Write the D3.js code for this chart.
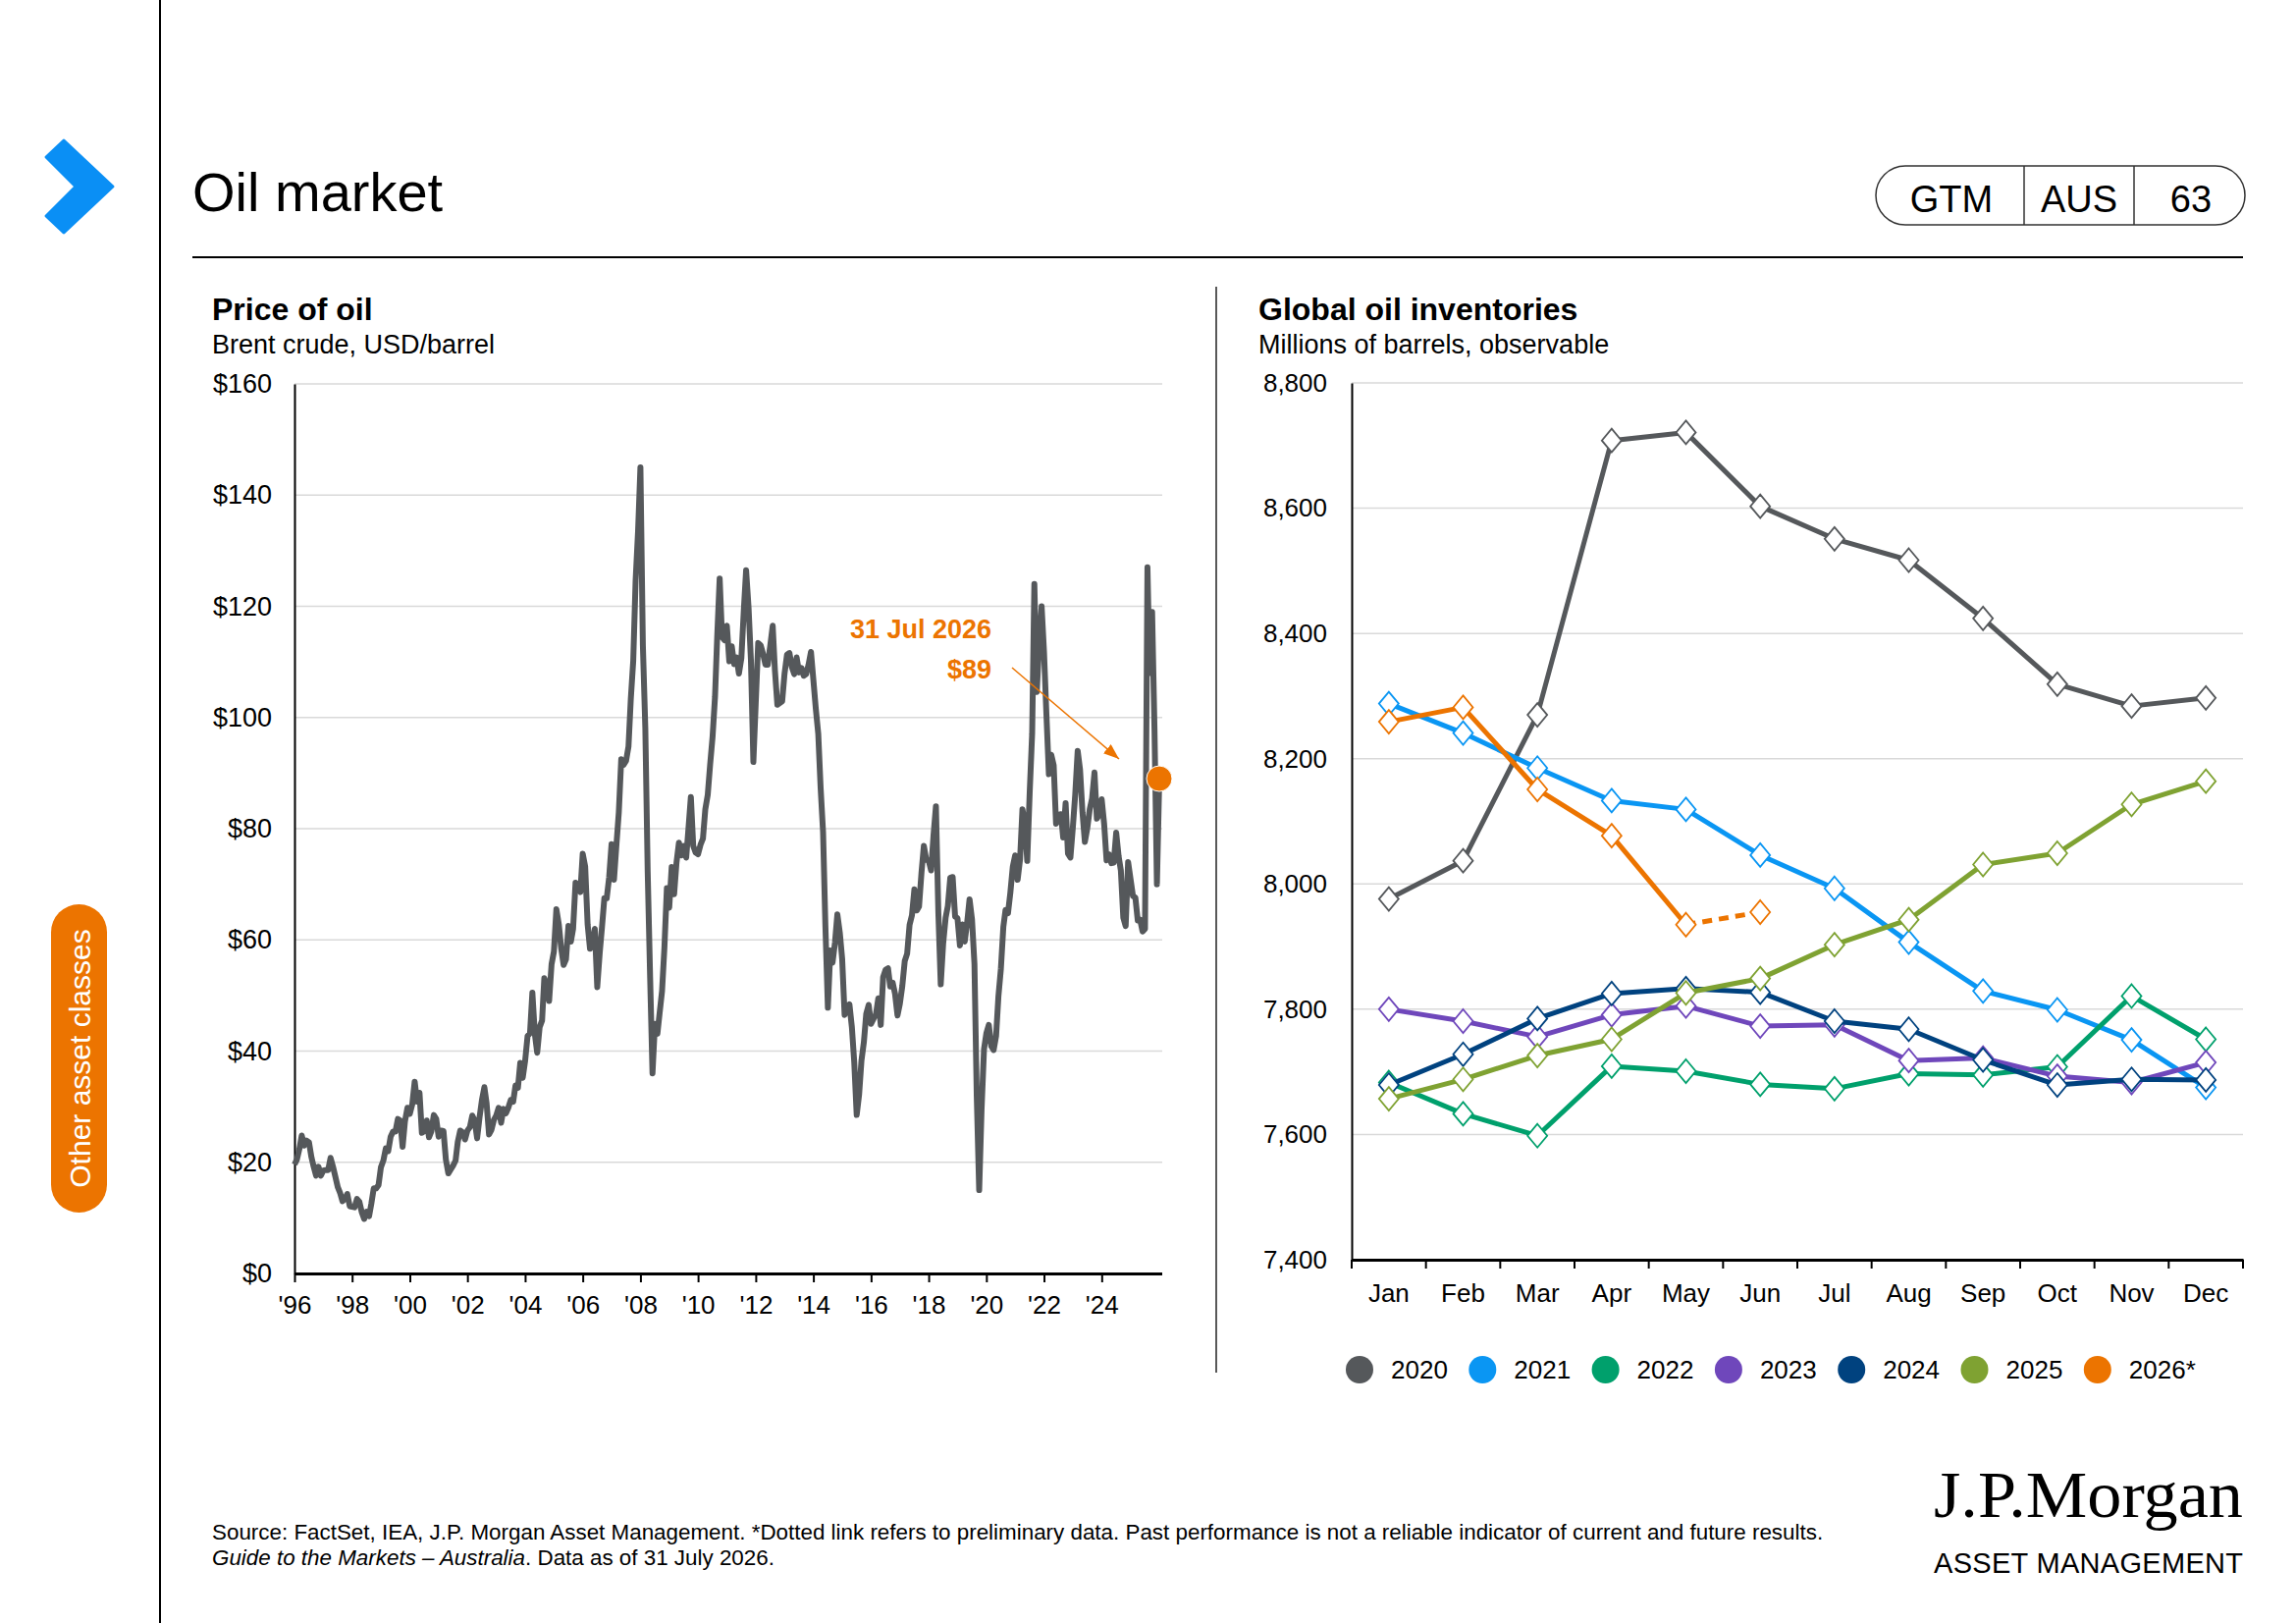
<!DOCTYPE html>
<html>
<head>
<meta charset="utf-8">
<script src="https://cdn.jsdelivr.net/npm/d3@7"></script>
<style>
body{margin:0;background:#fff;}
svg{display:block;font-family:"Liberation Sans",Arial,Helvetica,sans-serif;}
</style>
</head>
<body>
<script>
// ---- Brent crude, monthly, USD/barrel (Jul 1996 - Jul 2026) ----
var brentStart = new Date(1996, 6, 1);
var brent1990s = [
	19.6, 20.5, 22.4, 24.8, 23.0, 23.9,
	23.6, 20.9, 19.2, 17.6, 19.2, 17.6, 18.5, 18.6, 18.6, 20.8, 19.2, 17.4,
	15.5, 14.4, 13.0, 13.4, 14.3, 12.1, 12.0, 11.9, 13.4, 12.9, 11.0, 9.8,
	11.1, 10.3, 12.5, 15.3, 15.3, 15.9, 19.1, 20.3, 22.5, 22.0, 24.6, 25.5
];
var brent2000s = [
	25.5, 27.8, 27.5, 22.8, 27.4, 29.8, 28.7, 30.4, 34.5, 30.9, 32.5, 25.3,
	25.6, 27.5, 24.5, 25.6, 28.5, 27.8, 24.6, 25.7, 25.6, 20.5, 18.0, 18.7,
	19.4, 20.3, 23.7, 25.7, 25.4, 24.1, 25.7, 26.3, 28.4, 27.5, 24.3, 28.0,
	31.2, 33.5, 30.6, 25.0, 25.8, 27.6, 28.4, 29.8, 27.1, 29.6, 28.8, 29.8,
	31.2, 30.9, 33.8, 33.4, 37.9, 35.2, 38.2, 42.7, 43.2, 50.5, 43.1, 39.7,
	44.3, 45.5, 53.1, 51.9, 49.0, 55.6, 57.9, 65.5, 62.8, 58.5, 55.5, 56.5,
	62.5, 59.7, 62.0, 70.3, 69.8, 68.6, 75.5, 73.2, 62.8, 58.4, 59.1, 62.0,
	51.5, 57.6, 62.1, 67.5, 67.5, 71.3, 77.2, 70.8, 77.1, 82.9, 92.5, 91.5,
	92.2, 94.8, 103.3, 110.2, 124.6, 133.5, 145.0, 113.0, 98.1, 72.3, 53.2, 36.0,
	44.9, 43.1, 46.8, 50.8, 58.6, 69.3, 65.8, 73.1, 68.2, 73.9, 77.5, 75.2
];
var brent2010s = [
	76.9, 74.8, 79.9, 85.7, 76.9, 75.7, 75.4, 77.1, 78.2, 83.5, 86.1, 91.5,
	96.5, 103.7, 114.6, 125.0, 114.5, 113.9, 116.5, 110.1, 112.8, 109.6, 110.8, 107.9,
	110.7, 119.3, 126.5, 119.8, 110.3, 92.0, 102.6, 113.4, 113.0, 111.5, 109.5, 109.5,
	112.9, 116.5, 108.5, 102.3, 102.6, 102.9, 107.9, 111.3, 111.6, 109.1, 107.8, 110.8,
	108.1, 108.9, 107.5, 107.8, 109.5, 111.8, 106.8, 101.6, 97.1, 87.4, 79.4, 62.3,
	47.8, 58.1, 55.9, 59.5, 64.6, 61.3, 56.6, 46.5, 47.6, 48.4, 44.3, 38.0,
	28.5, 32.2, 38.2, 41.6, 46.7, 48.3, 44.9, 45.8, 46.6, 49.5, 44.7, 53.3,
	54.6, 54.9, 51.6, 52.3, 50.3, 46.4, 48.5, 51.7, 56.2, 57.5, 62.7, 64.4,
	69.1, 65.3, 66.0, 72.1, 76.9, 74.4, 74.3, 72.5, 78.9, 84.0, 64.8, 52.0,
	59.4, 64.0, 66.1, 71.2, 71.3, 64.2, 63.9, 59.0, 62.8, 59.7, 63.2, 67.3
];
var brent2020s = [
	63.7, 55.7, 32.0, 15.0, 29.4, 40.3, 43.2, 44.7, 40.9, 40.2, 42.7, 49.9,
	54.8, 62.3, 65.4, 64.8, 68.5, 73.2, 75.2, 70.8, 74.5, 83.5, 81.1, 74.2,
	86.5, 97.1, 124.0, 104.6, 113.3, 120.0, 111.9, 100.5, 89.8, 93.3, 91.4, 80.9,
	82.5, 82.6, 78.4, 84.6, 75.5, 74.8, 80.1, 86.2, 94.0, 90.6, 82.9, 77.6,
	80.1, 83.5, 85.4, 90.1, 81.8, 82.6, 85.3, 80.9, 74.3, 75.4, 73.8, 73.9,
	79.3, 75.0, 72.5, 64.0, 62.5, 74.0, 71.0, 67.9, 67.6, 63.5, 63.6, 61.5,
	62.0, 127.0, 108.0, 119.0, 98.0, 70.0, 89.0
];
var priceTicks = [0, 20, 40, 60, 80, 100, 120, 140, 160];
var yearTicks = [1996, 1998, 2000, 2002, 2004, 2006, 2008, 2010, 2012, 2014, 2016, 2018, 2020, 2022, 2024];

// ---- Global oil inventories, millions of barrels ----
var months = ["Jan", "Feb", "Mar", "Apr", "May", "Jun", "Jul", "Aug", "Sep", "Oct", "Nov", "Dec"];
var invYears = ["2020", "2021", "2022", "2023", "2024", "2025", "2026*"];
var inv2020 = [7976, 8037, 8270, 8708, 8721, 8603, 8551, 8517, 8424, 8319, 8284, 8297];
var inv2021 = [8288, 8241, 8185, 8133, 8119, 8046, 7993, 7907, 7829, 7799, 7751, 7675];
var inv2022 = [7683, 7633, 7598, 7709, 7701, 7680, 7673, 7697, 7695, 7708, 7821, 7752];
var inv2023 = [7800, 7781, 7756, 7791, 7805, 7773, 7775, 7718, 7722, 7693, 7683, 7715];
var inv2024 = [7679, 7728, 7785, 7825, 7833, 7827, 7781, 7768, 7719, 7679, 7688, 7687];
var inv2025 = [7657, 7688, 7726, 7752, 7826, 7849, 7903, 7943, 8031, 8049, 8127, 8164];
var inv2026 = [8259, 8282, 8151, 8077, 7935, 7955];
var invTicks = [7400, 7600, 7800, 8000, 8200, 8400, 8600, 8800];
var invColors = ["#55585b", "#0a96f3", "#00a06c", "#6f47bb", "#00427f", "#7fa232", "#ec7400"];

var W = 2339, H = 1653;
var orange = "#ec7400";
var svg = d3.select("body").append("svg").attr("width", W).attr("height", H);

// ---------- page frame ----------
svg.append("line").attr("x1", 163).attr("x2", 163).attr("y1", 0).attr("y2", H)
	.attr("stroke", "#000").attr("stroke-width", 2);
svg.append("polygon").attr("points", "65,143 115,190 65,237 47,220 77,190 47,160")
	.attr("fill", "#0a8ff5").attr("stroke", "#0a8ff5").attr("stroke-width", 3).attr("stroke-linejoin", "round");
svg.append("text").attr("x", 196).attr("y", 215).attr("font-size", 56).text("Oil market");
svg.append("line").attr("x1", 196).attr("x2", 2285).attr("y1", 262).attr("y2", 262)
	.attr("stroke", "#000").attr("stroke-width", 2);

// GTM pill
svg.append("rect").attr("x", 1911).attr("y", 169).attr("width", 376).attr("height", 60).attr("rx", 30)
	.attr("fill", "none").attr("stroke", "#333").attr("stroke-width", 1.5);
[2062, 2174].forEach(function(x){
	svg.append("line").attr("x1", x).attr("x2", x).attr("y1", 169).attr("y2", 229)
		.attr("stroke", "#333").attr("stroke-width", 1.5);
});
[["GTM", 1988], ["AUS", 2118], ["63", 2232]].forEach(function(d){
	svg.append("text").attr("x", d[1]).attr("y", 216).attr("text-anchor", "middle")
		.attr("font-size", 38).text(d[0]);
});

// side tab
svg.append("rect").attr("x", 52).attr("y", 921).attr("width", 57).attr("height", 314).attr("rx", 28.5)
	.attr("fill", orange);
svg.append("text").attr("transform", "translate(81,1078) rotate(-90)").attr("text-anchor", "middle")
	.attr("dy", "0.35em").attr("fill", "#fff").attr("font-size", 30).text("Other asset classes");

// chart divider
svg.append("line").attr("x1", 1239).attr("x2", 1239).attr("y1", 292).attr("y2", 1398)
	.attr("stroke", "#222").attr("stroke-width", 1.5);

// chart titles
function chartTitle(x, title, sub){
	svg.append("text").attr("x", x).attr("y", 326).attr("font-size", 32).attr("font-weight", "bold").text(title);
	svg.append("text").attr("x", x).attr("y", 360).attr("font-size", 27).text(sub);
}
chartTitle(216, "Price of oil", "Brent crude, USD/barrel");
chartTitle(1282, "Global oil inventories", "Millions of barrels, observable");

// ---------- left: price of oil ----------
var brent = brent1990s.concat(brent2000s, brent2010s, brent2020s).map(function(v, i){
	return {date: d3.timeMonth.offset(brentStart, i), value: v};
});
var px = d3.scaleTime().domain([brentStart, new Date(2026, 7, 1)]).range([300, 1183.5]);
var py = d3.scaleLinear().domain([0, 160]).range([1297, 391]);

var left = svg.append("g");
left.selectAll("line.grid").data(priceTicks.slice(1)).enter().append("line")
	.attr("class", "grid")
	.attr("x1", 300).attr("x2", 1184)
	.attr("y1", function(d){ return py(d); }).attr("y2", function(d){ return py(d); })
	.attr("stroke", "#d9d9d9").attr("stroke-width", 1.5);

var yAxisL = left.append("g").attr("transform", "translate(300,0)")
	.call(d3.axisLeft(py).tickValues(priceTicks).tickSize(0).tickPadding(23)
		.tickFormat(function(d){ return "$" + d; }));
yAxisL.select(".domain").attr("stroke", "#000").attr("stroke-width", 2);
yAxisL.selectAll("text").attr("font-size", 27).attr("fill", "#000").attr("font-family", null);

var xAxisL = left.append("g").attr("transform", "translate(0,1297)")
	.call(d3.axisBottom(px).tickValues(yearTicks.map(function(y){ return new Date(y, 6, 1); }))
		.tickSize(9).tickSizeOuter(0).tickPadding(14)
		.tickFormat(function(d){ return "'" + String(d.getFullYear()).slice(2); }));
xAxisL.select(".domain").attr("stroke", "#000").attr("stroke-width", 3);
xAxisL.selectAll(".tick line").attr("stroke", "#000").attr("stroke-width", 2);
xAxisL.selectAll("text").attr("font-size", 26).attr("fill", "#000").attr("font-family", null);

left.append("path").datum(brent)
	.attr("d", d3.line().x(function(d){ return px(d.date); }).y(function(d){ return py(d.value); }))
	.attr("fill", "none").attr("stroke", "#55585b").attr("stroke-width", 6)
	.attr("stroke-linejoin", "round");

// latest value marker + annotation
var last = brent[brent.length - 1];
var dotX = px(last.date), dotY = py(last.value);
svg.append("defs").append("marker")
	.attr("id", "arrow").attr("viewBox", "0 -6 16 12").attr("refX", 16).attr("refY", 0)
	.attr("markerWidth", 16).attr("markerHeight", 12).attr("markerUnits", "userSpaceOnUse")
	.attr("orient", "auto")
	.append("path").attr("d", "M0,-6L16,0L0,6Z").attr("fill", orange);
svg.append("line").attr("x1", 1031).attr("y1", 680).attr("x2", dotX - 41).attr("y2", dotY - 20)
	.attr("stroke", orange).attr("stroke-width", 1.5).attr("marker-end", "url(#arrow)");
left.append("circle").attr("cx", dotX).attr("cy", dotY).attr("r", 13).attr("fill", orange)
	.attr("stroke", "#fff").attr("stroke-width", 1);
svg.append("text").attr("x", 1010).attr("y", 650).attr("text-anchor", "end").attr("font-size", 27)
	.attr("font-weight", "bold").attr("fill", orange).text("31 Jul 2026");
svg.append("text").attr("x", 1010).attr("y", 691).attr("text-anchor", "end").attr("font-size", 27)
	.attr("font-weight", "bold").attr("fill", orange).text("$" + Math.round(last.value));

// ---------- right: global oil inventories ----------
var rx = d3.scaleBand().domain(months).range([1377, 2285]);
var ry = d3.scaleLinear().domain([7400, 8800]).range([1283, 390]);
var right = svg.append("g");

right.selectAll("line.grid").data(invTicks.slice(1)).enter().append("line")
	.attr("class", "grid")
	.attr("x1", 1377).attr("x2", 2285)
	.attr("y1", function(d){ return ry(d); }).attr("y2", function(d){ return ry(d); })
	.attr("stroke", "#d9d9d9").attr("stroke-width", 1.5);

var yAxisR = right.append("g").attr("transform", "translate(1377,0)")
	.call(d3.axisLeft(ry).tickValues(invTicks).tickSize(0).tickPadding(25).tickFormat(d3.format(",")));
yAxisR.select(".domain").attr("stroke", "#000").attr("stroke-width", 2);
yAxisR.selectAll("text").attr("font-size", 26).attr("fill", "#000").attr("font-family", null);

var xAxisR = right.append("g").attr("transform", "translate(0,1283)")
	.call(d3.axisBottom(rx).tickSize(0).tickPadding(25));
xAxisR.select(".domain").attr("stroke", "#000").attr("stroke-width", 3);
xAxisR.selectAll("text").attr("font-size", 26).attr("fill", "#000").attr("font-family", null);
// tick marks between months
xAxisR.selectAll("line.sep").data(months.concat(["end"])).enter().append("line")
	.attr("class", "sep")
	.attr("x1", function(d){ return d === "end" ? rx.range()[1] : rx(d); })
	.attr("x2", function(d){ return d === "end" ? rx.range()[1] : rx(d); })
	.attr("y1", 0).attr("y2", 9).attr("stroke", "#000").attr("stroke-width", 2);

var invSeries = [inv2020, inv2021, inv2022, inv2023, inv2024, inv2025, inv2026];
var mx = function(i){ return rx(months[i]) + rx.bandwidth() / 2; };
var invLine = d3.line().x(function(d){ return mx(d.i); }).y(function(d){ return ry(d.v); });
var diamond = "M0,-12L10,0L0,12L-10,0Z";

invSeries.forEach(function(vals, s){
	var pts = vals.map(function(v, i){ return {i: i, v: v}; });
	var col = invColors[s];
	var g = right.append("g");
	if(s === invSeries.length - 1){
		// last month is preliminary: dotted link
		g.append("path").datum(pts.slice(0, pts.length - 1)).attr("d", invLine)
			.attr("fill", "none").attr("stroke", col).attr("stroke-width", 5).attr("stroke-linejoin", "round");
		g.append("path").datum(pts.slice(pts.length - 2)).attr("d", invLine)
			.attr("fill", "none").attr("stroke", col).attr("stroke-width", 5).attr("stroke-dasharray", "10,7");
	} else {
		g.append("path").datum(pts).attr("d", invLine)
			.attr("fill", "none").attr("stroke", col).attr("stroke-width", 5).attr("stroke-linejoin", "round");
	}
	g.selectAll("path.mk").data(pts).enter().append("path")
		.attr("class", "mk")
		.attr("d", diamond)
		.attr("transform", function(d){ return "translate(" + mx(d.i) + "," + ry(d.v) + ")"; })
		.attr("fill", "#fff").attr("stroke", col).attr("stroke-width", 1.8);
});

// legend
var leg = svg.append("g").attr("transform", "translate(1385,1395)");
var item = leg.selectAll("g").data(invYears).enter().append("g")
	.attr("transform", function(d, i){ return "translate(" + (i * 125.3) + ",0)"; });
item.append("circle").attr("r", 14).attr("fill", function(d, i){ return invColors[i]; });
item.append("text").attr("x", 32).attr("dy", "0.35em").attr("font-size", 26).text(function(d){ return d; });

// ---------- footer ----------
svg.append("text").attr("x", 216).attr("y", 1568).attr("font-size", 22.4)
	.text("Source: FactSet, IEA, J.P. Morgan Asset Management. *Dotted link refers to preliminary data. Past performance is not a reliable indicator of current and future results.");
var f2 = svg.append("text").attr("x", 216).attr("y", 1594).attr("font-size", 22.4);
f2.append("tspan").attr("font-style", "italic").text("Guide to the Markets \u2013 Australia");
f2.append("tspan").text(". Data as of 31 July 2026.");

// logo
svg.append("text").attr("x", 1970).attr("y", 1545).attr("font-size", 68)
	.attr("font-family", "'Liberation Serif','DejaVu Serif',serif")
	.attr("textLength", 315).attr("lengthAdjust", "spacingAndGlyphs").text("J.P.Morgan");
svg.append("text").attr("x", 1970).attr("y", 1602).attr("font-size", 29)
	.attr("textLength", 315).attr("lengthAdjust", "spacing").text("ASSET MANAGEMENT");
</script>
</body>
</html>
